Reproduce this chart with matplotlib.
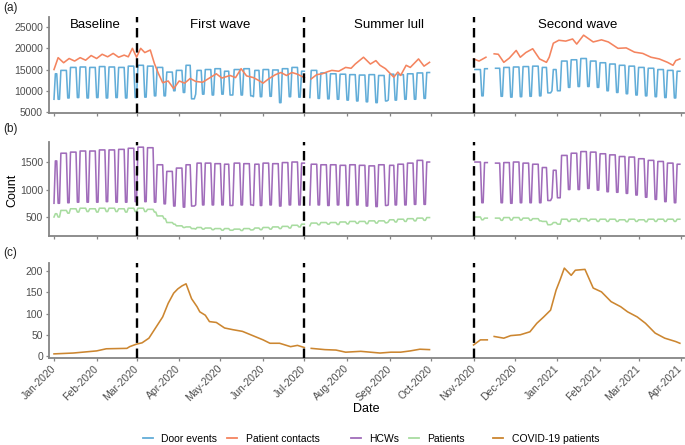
import numpy as np
import pandas as pd
import matplotlib
matplotlib.use("Agg")
import matplotlib.pyplot as plt
import matplotlib.dates as mdates
from matplotlib.lines import Line2D

plt.rcParams['font.family'] = ['Liberation Sans', 'DejaVu Sans']

nan = np.nan

# ---------------- data ----------------
# weekly levels (weeks start Monday 2019-12-30), weekday / weekend+holiday
door_weekday = [14000, 14800, 15500, 15600, 15500, 15700, 15600, 15500, 15800, 16000,
                15800, 15500, 14400, 14800, 16000, 14800, 15000, 15200, 14600, 15000,
                15200, 14800, 15000, 14900, 15200, 15500, 14600, 14800, 14200, 14000,
                13900, 13800, 13700, 13800, 13600, 13900, 13800, 14000, 14200, 14300,
                nan, nan, nan, nan, 15000, 15200, 15300, 15500, 15600, 15700,
                15800, 15500, 15000, 17000, 17300, 17600, 17000, 16600, 16300, 16000,
                15800, 15500, 15300, 15000, 14800, 14600]
door_weekend = [8000, 8300, 8400, 8300, 8400, 8300, 8400, 8300, 8400, 8500,
                8800, 8800, 10000, 9600, 8100, 9200, 9000, 9200, 9000, 9000,
                8800, 8600, 8700, 7200, 8600, 8500, 8400, 8200, 8100, 8000,
                7800, 7600, 7400, 7200, 7600, 7800, 8000, 8000, 8200, 8300,
                nan, nan, nan, nan, 8800, 8700, 8700, 8500, 8600, 8700,
                8800, 9500, 10000, 10800, 11000, 11000, 10800, 10000, 9600, 9300,
                9000, 8800, 8600, 8400, 8300, 8300]
hcw_weekday = [1520, 1660, 1680, 1700, 1700, 1720, 1720, 1730, 1750, 1770,
               1760, 1450, 1330, 1390, 1450, 1480, 1480, 1470, 1460, 1480,
               1470, 1460, 1480, 1470, 1490, 1500, 1480, 1460, 1450, 1450,
               1440, 1450, 1440, 1430, 1450, 1440, 1460, 1480, 1530, 1500,
               nan, nan, nan, nan, 1500, 1490, 1480, 1490, 1500, 1480,
               1460, 1400, 1350, 1620, 1660, 1690, 1680, 1650, 1630, 1600,
               1590, 1560, 1530, 1510, 1480, 1460]
hcw_weekend = [750, 760, 770, 770, 770, 780, 770, 770, 780, 780,
               770, 740, 700, 680, 700, 720, 720, 720, 710, 720,
               720, 710, 720, 700, 720, 720, 720, 720, 710, 720,
               710, 720, 700, 690, 710, 720, 720, 730, 730, 740,
               nan, nan, nan, nan, 760, 760, 760, 750, 760, 760,
               760, 800, 850, 1000, 1000, 1020, 990, 960, 950, 930,
               900, 860, 820, 780, 760, 760]
patients_weekday = [560, 620, 650, 660, 650, 660, 660, 650, 660, 660,
                    640, 520, 400, 340, 320, 310, 300, 290, 290, 280,
                    290, 300, 310, 320, 330, 350, 370, 390, 400, 400,
                    410, 420, 420, 430, 430, 450, 460, 470, 480, 490,
                    nan, nan, nan, nan, 500, 480, 480, 490, 490, 480,
                    470, 420, 400, 460, 460, 470, 460, 460, 460, 450,
                    460, 450, 460, 460, 460, 460]
patients_weekend = [500, 570, 590, 600, 590, 600, 600, 590, 600, 600,
                    590, 470, 370, 310, 290, 280, 270, 260, 260, 255,
                    265, 270, 280, 290, 300, 320, 340, 360, 370, 365,
                    375, 385, 380, 390, 395, 410, 420, 430, 440, 450,
                    nan, nan, nan, nan, 450, 440, 440, 445, 445, 440,
                    430, 360, 370, 420, 420, 430, 420, 420, 420, 415,
                    420, 415, 420, 420, 420, 420]
holidays = ['2020-01-01', '2020-04-10', '2020-04-13', '2020-05-08', '2020-05-25',
            '2020-08-31', '2020-12-25', '2020-12-28', '2021-01-01']
gaps = [('2020-07-02', '2020-07-04'), ('2020-10-01', '2020-11-01'),
        ('2020-11-12', '2020-11-16')]

contact_dates = ['2020-01-01', '2020-01-04', '2020-01-08', '2020-01-12', '2020-01-16',
                 '2020-01-20', '2020-01-24', '2020-01-28', '2020-02-01', '2020-02-05',
                 '2020-02-09', '2020-02-13', '2020-02-17', '2020-02-21', '2020-02-24',
                 '2020-02-27', '2020-03-01', '2020-03-04', '2020-03-07', '2020-03-11',
                 '2020-03-14', '2020-03-17', '2020-03-20', '2020-03-24', '2020-03-28',
                 '2020-04-01', '2020-04-05', '2020-04-09', '2020-04-13', '2020-04-18',
                 '2020-04-22', '2020-04-28', '2020-05-02', '2020-05-08', '2020-05-12',
                 '2020-05-16', '2020-05-20', '2020-05-25', '2020-05-29', '2020-06-01',
                 '2020-06-05', '2020-06-10', '2020-06-14', '2020-06-18', '2020-06-22',
                 '2020-06-26', '2020-07-01', '2020-07-02', '2020-07-06', '2020-07-10',
                 '2020-07-14', '2020-07-18', '2020-07-21', '2020-07-26', '2020-07-31',
                 '2020-08-04', '2020-08-07', '2020-08-13', '2020-08-18', '2020-08-22',
                 '2020-08-25', '2020-08-29', '2020-09-04', '2020-09-07', '2020-09-09',
                 '2020-09-13', '2020-09-16', '2020-09-22', '2020-09-26', '2020-09-30',
                 '2020-10-01', '2020-11-01', '2020-11-05', '2020-11-10', '2020-11-12',
                 '2020-11-16', '2020-11-19', '2020-11-23', '2020-11-27', '2020-12-02',
                 '2020-12-05', '2020-12-09', '2020-12-14', '2020-12-19', '2020-12-24',
                 '2020-12-26', '2020-12-29', '2021-01-02', '2021-01-07', '2021-01-12',
                 '2021-01-15', '2021-01-20', '2021-01-27', '2021-02-02', '2021-02-07',
                 '2021-02-14', '2021-02-20', '2021-02-26', '2021-03-04', '2021-03-10',
                 '2021-03-16', '2021-03-22', '2021-03-26', '2021-03-28', '2021-03-31']
contact_values = [15000, 17800, 16600, 17600, 17000,
                  17800, 17200, 18300, 17600, 18600,
                  18000, 18800, 17900, 18400, 18000,
                  20000, 17900, 20000, 19000, 19600,
                  16400, 14000, 11900, 12300, 10500,
                  12300, 11800, 12900, 12200, 12000,
                  12800, 14000, 13000, 13600, 13100,
                  15200, 13500, 13100, 12400, 11800,
                  12800, 13800, 14300, 13600, 14300,
                  13900, 13100, nan, 12800, 13800,
                  14000, 14500, 14800, 14600, 15500,
                  15300, 16300, 17900, 16300, 17100,
                  16000, 15200, 13200, 14400, 13600,
                  16000, 15500, 17500, 15800, 16700,
                  nan, 17500, 17000, 17900, nan,
                  18700, 18600, 16700, 17700, 19500,
                  17900, 19000, 19900, 17500, 16700,
                  17900, 21200, 21900, 21700, 22200,
                  21000, 23100, 21500, 22000, 21500,
                  20000, 20100, 19100, 18800, 17900,
                  17500, 16700, 16000, 17100, 17500]

covid_dates = ['2020-01-01', '2020-01-15', '2020-02-01', '2020-02-08', '2020-02-23',
               '2020-02-25', '2020-03-01', '2020-03-05', '2020-03-10', '2020-03-14',
               '2020-03-20', '2020-03-24', '2020-03-28', '2020-03-31', '2020-04-03',
               '2020-04-06', '2020-04-10', '2020-04-14', '2020-04-16', '2020-04-20',
               '2020-04-23', '2020-04-28', '2020-05-04', '2020-05-10', '2020-05-17',
               '2020-05-26', '2020-06-01', '2020-06-06', '2020-06-13', '2020-06-21',
               '2020-06-26', '2020-07-01', '2020-07-02', '2020-07-06', '2020-07-16',
               '2020-07-24', '2020-07-31', '2020-08-11', '2020-08-25', '2020-09-02',
               '2020-09-09', '2020-09-16', '2020-09-23', '2020-09-30', '2020-10-01',
               '2020-11-01', '2020-11-06', '2020-11-11', '2020-11-12', '2020-11-16',
               '2020-11-23', '2020-11-28', '2020-12-05', '2020-12-12', '2020-12-17',
               '2020-12-22', '2020-12-27', '2020-12-31', '2021-01-03', '2021-01-06',
               '2021-01-11', '2021-01-14', '2021-01-21', '2021-01-27', '2021-02-02',
               '2021-02-09', '2021-02-16', '2021-02-21', '2021-02-28', '2021-03-06',
               '2021-03-13', '2021-03-20', '2021-03-28', '2021-03-31']
covid_values = [5, 7, 12, 17, 18,
                22, 28, 31, 42, 62,
                92, 124, 148, 158, 165,
                170, 135, 116, 104, 96,
                81, 79, 66, 62, 58,
                46, 38, 30, 30, 22,
                25, 20, nan, 18, 15,
                14, 9, 11, 7, 9,
                9, 12, 16, 15, nan,
                26, 38, 38, nan, 46,
                42, 48, 50, 57, 77,
                92, 108, 155, 180, 207,
                190, 202, 204, 160, 151,
                128, 116, 104, 92, 77,
                54, 42, 34, 30]

period_bounds = ['2020-01-01', '2020-03-01', '2020-07-01', '2020-11-01', '2021-04-01']
period_names = ['Baseline', 'First wave', 'Summer lull', 'Second wave']
month_ticks = pd.date_range('2020-01-01', '2021-04-01', freq='MS')

# ---------------- build daily series ----------------
days = pd.date_range('2020-01-01', '2021-03-31', freq='D')
wk = ((days - pd.Timestamp('2019-12-30')).days // 7).values
off = (days.dayofweek >= 5) | days.isin(pd.to_datetime(holidays))
gapmask = np.zeros(len(days), dtype=bool)
for a, b in gaps:
    gapmask |= (days >= pd.Timestamp(a)) & (days <= pd.Timestamp(b))


def expand(wd, we):
    wd = np.asarray(wd, float)
    we = np.asarray(we, float)
    v = np.where(off, we[wk], wd[wk])
    v[gapmask] = nan
    return v

door = expand(door_weekday, door_weekend)
hcw = expand(hcw_weekday, hcw_weekend)
pats = expand(patients_weekday, patients_weekend)

c_door = '#62ADD8'
c_cont = '#F4845F'
c_hcw = '#A06CBA'
c_pat = '#A8DCA0'
c_cov = '#CC8630'
spine_c = '#858585'
tick_c = '#4D4D4D'

W, H = 685, 445
fig = plt.figure(figsize=(W / 100, H / 100), dpi=100)
L = 48.5 / W
AW = (684 - 48.5) / W


def mk(top, bottom):
    return fig.add_axes([L, 1 - bottom / H, AW, (bottom - top) / H])

axa = mk(17, 113)
axb = mk(142, 236)
axc = mk(263, 358)

lw = 1.15
axa.plot(days, door, color=c_door, lw=lw)
axa.plot(pd.to_datetime(contact_dates), contact_values, color=c_cont, lw=lw)
axb.plot(days, hcw, color=c_hcw, lw=lw)
axb.plot(days, pats, color=c_pat, lw=lw)
axc.plot(pd.to_datetime(covid_dates), covid_values, color=c_cov, lw=lw)

axa.set_ylim(4760, 27380)
axa.set_yticks([5000, 10000, 15000, 20000, 25000])
axb.set_ylim(155, 1864)
axb.set_yticks([500, 1000, 1500])
axc.set_ylim(-4.7, 219)
axc.set_yticks([0, 50, 100, 150, 200])

bounds = pd.to_datetime(period_bounds)
for ax in (axa, axb, axc):
    ax.set_xlim(pd.Timestamp('2019-12-28'), pd.Timestamp('2021-04-03'))
    ax.set_xticks(month_ticks)
    for s in ('top', 'right'):
        ax.spines[s].set_visible(False)
    for s in ('left', 'bottom'):
        ax.spines[s].set_color(spine_c)
        ax.spines[s].set_linewidth(1.3)
    ax.tick_params(axis='both', colors=spine_c, labelcolor=tick_c, labelsize=7.5,
                   length=2.5, width=0.9, pad=1.5)
    for b in bounds[1:4]:
        ax.axvline(b, color='black', lw=1.7, ls=(0, (4, 2.4)), zorder=5)
    ax.set_facecolor('none')

axa.tick_params(axis='x', labelbottom=False)
axb.tick_params(axis='x', labelbottom=False)
axc.tick_params(axis='x', pad=4)
axc.xaxis.set_major_formatter(mdates.DateFormatter('%b-%Y'))
for lab in axc.get_xticklabels():
    lab.set_rotation(45)
    lab.set_ha('right')
    lab.set_va('center')
    lab.set_rotation_mode('anchor')

for i, name in enumerate(period_names):
    mid = bounds[i] + (bounds[i + 1] - bounds[i]) / 2
    axa.text(mid, 25500, name, ha='center', va='center', fontsize=9.5, color='black')

fig.text(3 / W, 1 - 8 / H, '(a)', fontsize=8.5, ha='left', va='center', color='#222222')
fig.text(3 / W, 1 - 129 / H, '(b)', fontsize=8.5, ha='left', va='center', color='#222222')
fig.text(3 / W, 1 - 253 / H, '(c)', fontsize=8.5, ha='left', va='center', color='#222222')
fig.text(12 / W, 1 - 190 / H, 'Count', fontsize=9, rotation=90, ha='center', va='center')
fig.text(366 / W, 1 - 409 / H, 'Date', fontsize=9, ha='center', va='center')

legend_groups = [
    ([c_door, c_cont], ['Door events', 'Patient contacts'], 231),
    ([c_hcw, c_pat], ['HCWs', 'Patients'], 408),
    ([c_cov], ['COVID-19 patients'], 546),
]
for cols, labs, cx in legend_groups:
    hs = [Line2D([], [], color=c, lw=1.3) for c in cols]
    fig.legend(hs, labs, loc='center', bbox_to_anchor=(cx / W, 1 - 439 / H),
               ncol=len(labs), frameon=False, fontsize=7.5, handlelength=1.0,
               handletextpad=0.8, columnspacing=0.9, borderpad=0, borderaxespad=0)

fig.savefig('out.png', dpi=100)
